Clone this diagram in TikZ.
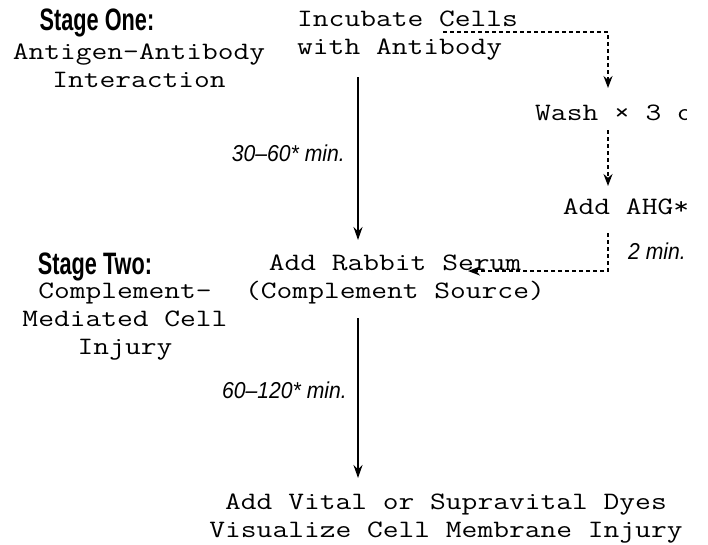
\documentclass[tikz,border=0pt]{standalone}
\usepackage{fontspec}
\setmonofont{Latin Modern Mono}[FakeStretch=1.225]
\newfontfamily\stagefont{Liberation Sans}[FakeStretch=0.7]
\newfontfamily\timefont{Liberation Sans}[FakeStretch=0.92]
\usetikzlibrary{positioning,arrows.meta}

\tikzset{
  stepnode/.style={inner sep=0pt, align=center,
    font=\ttfamily\fontsize{25}{28}\selectfont},
  stagehead/.style={inner sep=0pt, font=\stagefont\bfseries\fontsize{31}{32}\selectfont},
  timenode/.style={inner sep=0pt, font=\timefont\itshape\fontsize{23}{25}\selectfont},
  flow/.style={line width=2.2pt, -{Stealth[length=13pt,width=9pt]}},
  washflow/.style={line width=1.8pt, dash pattern=on 4pt off 3pt,
    -{Stealth[length=12pt,width=9pt]}}
}

\begin{document}
\begin{tikzpicture}[x=1pt, y=-1pt]
\useasboundingbox (0,0) rectangle (708,544);

% stage labels
\node[stagehead] (stage1) at (97,23) {Stage One:};
\node[stepnode] (stage1txt) at (139,66) {Antigen-Antibody\\Interaction};
\node[stagehead] (stage2) at (95,267) {Stage Two:};
\node[stepnode] (stage2txt) at (125,322) {Complement-\\Mediated Cell\\Injury};

% steps
\node[stepnode, align=left, anchor=west] (incubate) at (297,36) {Incubate Cells\\with Antibody};
\begin{scope}
\clip (0,0) rectangle (686,544);
\node[stepnode, anchor=west] (wash) at (535,113) {Wash × 3 o};
\end{scope}
\node[stepnode] (ahg) at (626,207) {Add AHG*};
\node[stepnode] (serum) at (395,279) {Add Rabbit Serum\\(Complement Source)};
\node[stepnode] (dyes) at (446,519) {Add Vital or Supravital Dyes\\Visualize Cell Membrane Injury};

% times
\node[timenode, anchor=east] (t1) at (345,153) {30–60* min.};
\node[timenode] (t2) at (657,251) {2 min.};
\node[timenode, anchor=east] (t3) at (347,390) {60–120* min.};

% arrow ends
\coordinate (incout) at (358,77);
\coordinate (serumin) at (358,240);
\coordinate (serumout) at (358,318);
\coordinate (dyesin) at (358,478);
\coordinate (cellsout) at (443,32);
\coordinate (washin) at (608,88);
\coordinate (washout) at (608,130);
\coordinate (ahgin) at (608,186);
\coordinate (ahgout) at (608,233);
\coordinate (serumback) at (468,271);

\draw[flow] (incout) -- (serumin);
\draw[flow] (serumout) -- (dyesin);
\draw[washflow] (cellsout) -| (washin);
\draw[washflow] (washout) -- (ahgin);
\draw[washflow] (ahgout) |- (serumback);
\end{tikzpicture}
\end{document}
